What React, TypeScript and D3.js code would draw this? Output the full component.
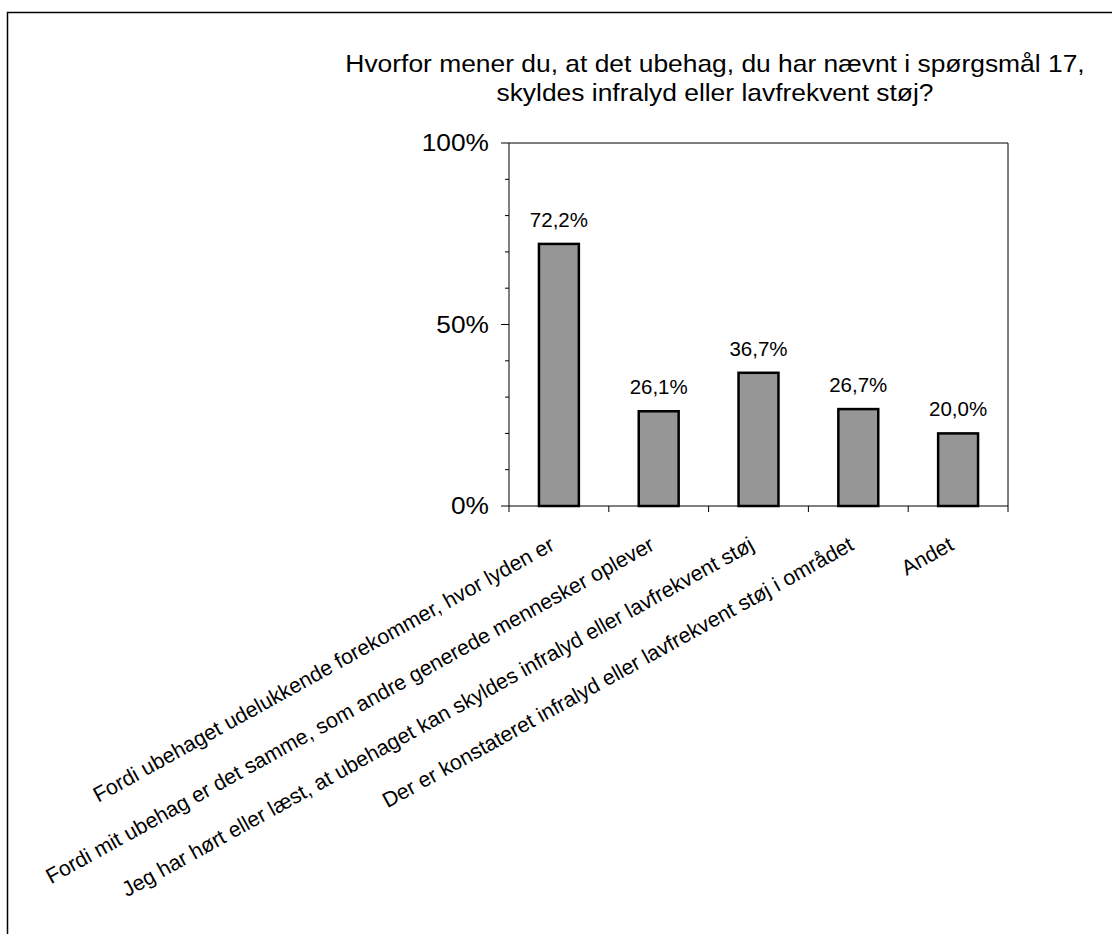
import React from "react";
import * as d3 from "d3";

const titleLines = [
  "Hvorfor mener du, at det ubehag, du har nævnt i spørgsmål 17,",
  "skyldes infralyd eller lavfrekvent støj?",
];
const categories = [
  "Fordi ubehaget udelukkende forekommer, hvor lyden er",
  "Fordi mit ubehag er det samme, som andre generede mennesker oplever",
  "Jeg har hørt eller læst, at ubehaget kan skyldes infralyd eller lavfrekvent støj",
  "Der er konstateret infralyd eller lavfrekvent støj i området",
  "Andet",
];
const values = [72.2, 26.1, 36.7, 26.7, 20.0];
const majorTicks = [0, 50, 100];
const minorTicks = [10, 20, 30, 40, 60, 70, 80, 90];

const W = 1112;
const H = 934;
const plot = { left: 509, right: 1008, top: 143, bottom: 506 };
const FONT = "'Liberation Sans', Arial, sans-serif";

export default function App() {
  const x = d3
    .scaleBand<string>()
    .domain(categories)
    .range([plot.left, plot.right])
    .paddingInner(0.6)
    .paddingOuter(0.3);
  const xOuter = d3.scaleBand<string>().domain(categories).range([plot.left, plot.right]);
  const y = d3.scaleLinear().domain([0, 100]).range([plot.bottom, plot.top]);
  const fmt = (v: number) => v.toFixed(1).replace(".", ",") + "%";
  const boundaries = categories.map((c) => xOuter(c)!).concat([plot.right]);
  const titleX = 715;
  const tickX = 489;

  return (
    <svg
      width={W}
      height={H}
      style={{ position: "absolute", left: 0, top: 0, background: "#fff" }}
      fontFamily={FONT}
    >
      <rect x={7.5} y={12.5} width={W + 20} height={H + 20} fill="#fff" stroke="#000" strokeWidth={1.5} />
      <g transform={`translate(${titleX},0) scale(1.1,1)`}>
        {titleLines.map((t, i) => (
          <text key={i} x={0} y={72 + i * 29} textAnchor="middle" fontSize={24} fill="#000">
            {t}
          </text>
        ))}
      </g>
      {/* plot area border top/right */}
      <line x1={plot.left} x2={plot.right} y1={plot.top} y2={plot.top} stroke="#000" strokeWidth={1} />
      <line x1={plot.right} x2={plot.right} y1={plot.top} y2={plot.bottom} stroke="#000" strokeWidth={1} />
      {/* bars */}
      {categories.map((c, i) => (
        <g key={c}>
          <rect
            x={x(c)!}
            y={y(values[i])}
            width={x.bandwidth()}
            height={y(0) - y(values[i])}
            fill="#969696"
            stroke="#000"
            strokeWidth={2.5}
          />
          <text
            x={x(c)! + x.bandwidth() / 2}
            y={y(values[i]) - 17}
            textAnchor="middle"
            fontSize={20.5}
            fill="#000"
          >
            {fmt(values[i])}
          </text>
        </g>
      ))}
      {/* y axis */}
      <line x1={plot.left} x2={plot.left} y1={plot.top} y2={plot.bottom} stroke="#000" strokeWidth={1} />
      {majorTicks.map((t) => (
        <g key={t}>
          <line x1={plot.left - 8} x2={plot.left} y1={y(t)} y2={y(t)} stroke="#000" />
          <g transform={`translate(${tickX},${y(t)}) scale(1.12,1)`}>
            <text x={0} y={0} dy="0.36em" textAnchor="end" fontSize={23.5} fill="#000">
              {t}%
            </text>
          </g>
        </g>
      ))}
      {minorTicks.map((t) => (
        <line key={t} x1={plot.left - 4} x2={plot.left} y1={y(t)} y2={y(t)} stroke="#000" />
      ))}
      {/* x axis */}
      <line x1={plot.left} x2={plot.right} y1={plot.bottom} y2={plot.bottom} stroke="#000" strokeWidth={1} />
      {boundaries.map((b, i) => (
        <line key={i} x1={b} x2={b} y1={plot.bottom} y2={plot.bottom + 6} stroke="#000" />
      ))}
      {categories.map((c) => {
        const cx = xOuter(c)! + xOuter.bandwidth() / 2 - 3;
        const cy = 549;
        return (
          <text
            key={c}
            x={cx}
            y={cy}
            textAnchor="end"
            fontSize={21.3}
            fill="#000"
            transform={`rotate(-29, ${cx}, ${cy})`}
          >
            {c}
          </text>
        );
      })}
    </svg>
  );
}
